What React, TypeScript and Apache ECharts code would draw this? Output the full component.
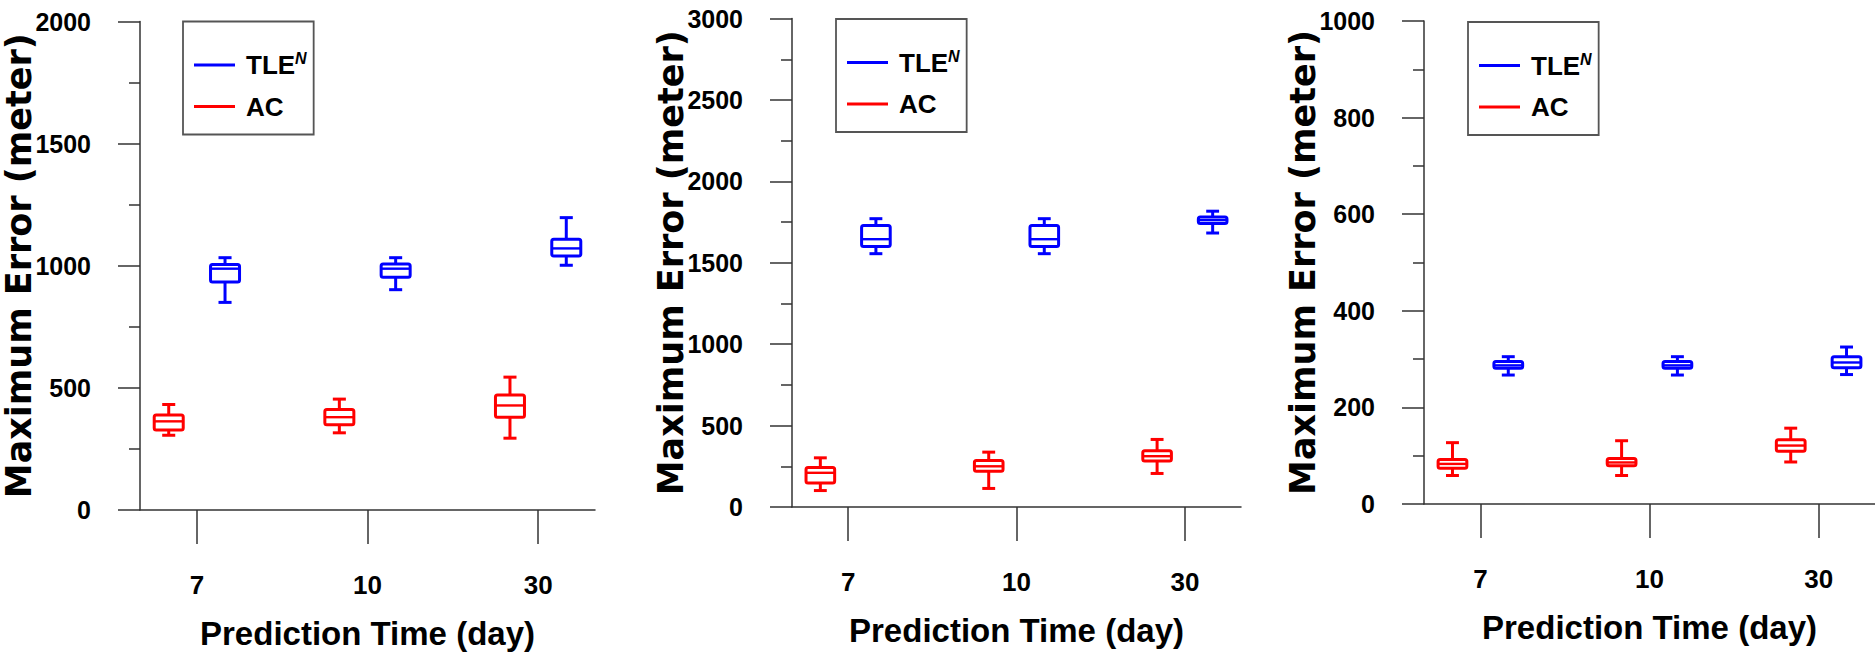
import React, { useEffect, useRef } from 'react';
import * as echarts from 'echarts';

// Prediction times (x categories)
const CATEGORIES = ['7', '10', '30'];
const SERIES_NAMES = ['TLE', 'AC'];

// Box statistics per prediction time: [min, Q1, median, Q3, max] (meter)
const P1_TLE = [
  [850, 933, 988, 1005, 1033],
  [902, 953, 988, 1007, 1033],
  [1002, 1040, 1071, 1109, 1197],
];
const P1_AC = [
  [306, 328, 363, 389, 432],
  [316, 349, 380, 411, 454],
  [294, 380, 428, 471, 544],
];
const P2_TLE = [
  [1556, 1600, 1645, 1729, 1771],
  [1556, 1600, 1645, 1729, 1771],
  [1683, 1742, 1762, 1782, 1817],
];
const P2_AC = [
  [101, 148, 210, 243, 302],
  [114, 219, 250, 285, 337],
  [206, 283, 312, 346, 415],
];
const P3_TLE = [
  [267, 281, 287, 295, 305],
  [267, 281, 287, 295, 305],
  [268, 282, 293, 305, 325],
];
const P3_AC = [
  [59, 74, 83, 92, 127],
  [59, 79, 86, 94, 131],
  [87, 109, 121, 133, 157],
];

const PANEL_TLE = [P1_TLE, P2_TLE, P3_TLE];
const PANEL_AC = [P1_AC, P2_AC, P3_AC];

// y axis ranges: labelled (major) step, one minor tick in between
const Y_MAX = [2000, 3000, 1000];
const Y_LABEL_STEP = [500, 500, 200];

// layout (px)
const GRIDS = [
  { left: 140, top: 21.5, width: 455, height: 488.5 },
  { left: 792, top: 18.6, width: 449, height: 488.4 },
  { left: 1424, top: 21, width: 451, height: 483 },
];
const LEGEND_POS = [
  { left: 183, top: 21.5 },
  { left: 836, top: 19 },
  { left: 1468, top: 22 },
];

const DODGE = 0.165;
const BOX_W = 0.17;
const BLUE = '#0000ff';
const RED = '#ff0000';
const AXIS_COLOR = '#333';
const NARROW = '"Liberation Sans Narrow", "Liberation Sans", Arial, sans-serif';
const WIDE = '"DejaVu Sans", Verdana, sans-serif';

function renderBox(params: any, api: any) {
  const x = api.value(0);
  const lo = api.coord([x, api.value(1)]);
  const q1 = api.coord([x, api.value(2)]);
  const med = api.coord([x, api.value(3)]);
  const q3 = api.coord([x, api.value(4)]);
  const hi = api.coord([x, api.value(5)]);
  const w = api.size([BOX_W, 0])[0];
  const cx = med[0];
  const cap = w * 0.45;
  const color = api.visual('color');
  const st = { stroke: color, lineWidth: 3, fill: 'none' };
  return {
    type: 'group',
    children: [
      { type: 'line', shape: { x1: cx, y1: hi[1], x2: cx, y2: q3[1] }, style: st },
      { type: 'line', shape: { x1: cx, y1: q1[1], x2: cx, y2: lo[1] }, style: st },
      { type: 'line', shape: { x1: cx - cap / 2, y1: hi[1], x2: cx + cap / 2, y2: hi[1] }, style: st },
      { type: 'line', shape: { x1: cx - cap / 2, y1: lo[1], x2: cx + cap / 2, y2: lo[1] }, style: st },
      {
        type: 'rect',
        shape: { x: cx - w / 2, y: q3[1], width: w, height: q1[1] - q3[1], r: 2 },
        style: { stroke: color, lineWidth: 3, fill: '#fff' },
      },
      { type: 'line', shape: { x1: cx - w / 2, y1: med[1], x2: cx + w / 2, y2: med[1] }, style: { ...st, lineWidth: 2.4 } },
    ],
  };
}

function buildOption() {
  const grid = GRIDS.map((g) => ({ ...g, containLabel: false }));
  const xAxis = GRIDS.map((_, i) => ({
    type: 'value',
    gridIndex: i,
    min: -1 / 3,
    max: 7 / 3,
    splitLine: { show: false },
    axisLine: { onZero: false, lineStyle: { color: AXIS_COLOR, width: 1.5 } },
    axisTick: { show: true, length: 34, customValues: [0, 1, 2], lineStyle: { color: AXIS_COLOR, width: 1.5 } },
    axisLabel: {
      customValues: [0, 1, 2],
      formatter: (v: number) => CATEGORIES[Math.round(v)] ?? '',
      margin: 62,
      fontFamily: NARROW,
      fontWeight: 'bold',
      fontSize: 26,
      color: '#000',
    },
    name: 'Prediction Time (day)',
    nameLocation: 'middle',
    nameGap: 107,
    nameMoveOverlap: false,
    nameTextStyle: { fontFamily: NARROW, fontWeight: 'bold', fontSize: 33, color: '#000' },
  }));
  const yAxis = GRIDS.map((_, i) => ({
    type: 'value',
    gridIndex: i,
    min: 0,
    max: Y_MAX[i],
    interval: Y_LABEL_STEP[i],
    splitLine: { show: false },
    axisLine: { show: true, onZero: false, lineStyle: { color: AXIS_COLOR, width: 1.5 } },
    axisTick: { show: true, length: 22, lineStyle: { color: AXIS_COLOR, width: 1.5 } },
    minorTick: { show: true, splitNumber: 2, length: 11, lineStyle: { color: AXIS_COLOR, width: 1.5 } },
    minorSplitLine: { show: false },
    axisLabel: {
      margin: 49,
      formatter: (v: number) => String(v),
      fontFamily: NARROW,
      fontWeight: 'bold',
      fontSize: 25,
      color: '#000',
    },
    name: 'Maximum Error (meter)',
    nameLocation: 'middle',
    nameGap: 104,
    nameMoveOverlap: false,
    nameTextStyle: { fontFamily: WIDE, fontWeight: 'bold', fontSize: 35, color: '#000' },
  }));
  const series: any[] = [];
  GRIDS.forEach((_, p) => {
    series.push({
      type: 'custom',
      name: SERIES_NAMES[0],
      xAxisIndex: p,
      yAxisIndex: p,
      itemStyle: { color: BLUE },
      encode: { x: 0, y: [1, 2, 3, 4, 5] },
      renderItem: renderBox,
      data: PANEL_TLE[p].map((d, i) => [i + DODGE, ...d]),
    });
    series.push({
      type: 'custom',
      name: SERIES_NAMES[1],
      xAxisIndex: p,
      yAxisIndex: p,
      itemStyle: { color: RED },
      encode: { x: 0, y: [1, 2, 3, 4, 5] },
      renderItem: renderBox,
      data: PANEL_AC[p].map((d, i) => [i - DODGE, ...d]),
    });
  });
  const legend = LEGEND_POS.map((pos) => ({
    ...pos,
    orient: 'vertical',
    data: SERIES_NAMES,
    selectedMode: false,
    icon: 'rect',
    itemWidth: 41,
    itemHeight: 3,
    itemGap: 14,
    padding: [29, 7, 15, 11],
    borderColor: '#555',
    borderWidth: 1.8,
    formatter: (name: string) => (name === 'TLE' ? '{t|TLE}{s|N}' : '{t|AC}'),
    textStyle: {
      rich: {
        t: { fontFamily: NARROW, fontWeight: 'bold', fontSize: 26, lineHeight: 30, color: '#000', padding: [0, 0, 0, 6] },
        s: { fontFamily: NARROW, fontWeight: 'bold', fontStyle: 'italic', fontSize: 16, lineHeight: 16, color: '#000', padding: [0, 0, 13, 0] },
      },
    },
  }));
  return {
    animation: false,
    backgroundColor: '#fff',
    grid,
    xAxis,
    yAxis,
    legend,
    series,
  };
}

export default function App() {
  const ref = useRef<HTMLDivElement>(null);
  useEffect(() => {
    if (!ref.current) return;
    const chart = echarts.init(ref.current, null, { renderer: 'svg' });
    chart.setOption(buildOption() as any);
    return () => chart.dispose();
  }, []);
  return (
    <div
      ref={ref}
      style={{ position: 'fixed', left: 0, top: 0, width: 1875, height: 662, background: '#fff' }}
    />
  );
}
